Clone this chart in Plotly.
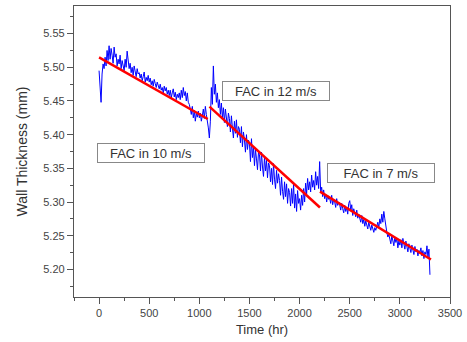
import plotly.graph_objects as go

# Measured wall thickness (blue), sampled every 10 hr
time_hr = list(range(0, 3301, 10))
thickness_mm = [
    5.495, 5.460, 5.448, 5.490, 5.505, 5.498, 5.515, 5.502, 5.525, 5.510,
    5.532, 5.512, 5.528, 5.518, 5.506, 5.530, 5.515, 5.520, 5.502, 5.512,
    5.505, 5.518, 5.498, 5.510, 5.502, 5.495, 5.512, 5.500, 5.524, 5.505,
    5.498, 5.506, 5.492, 5.500, 5.488, 5.502, 5.494, 5.486, 5.498, 5.490,
    5.492, 5.484, 5.490, 5.480, 5.486, 5.493, 5.478, 5.485, 5.480, 5.488,
    5.478, 5.484, 5.474, 5.480, 5.472, 5.482, 5.476, 5.470, 5.478, 5.472,
    5.468, 5.475, 5.466, 5.470, 5.462, 5.472, 5.465, 5.470, 5.460, 5.466,
    5.458, 5.466, 5.455, 5.462, 5.468, 5.456, 5.463, 5.452, 5.460, 5.455,
    5.462, 5.452, 5.466, 5.455, 5.470, 5.458, 5.464, 5.450, 5.462, 5.448,
    5.445, 5.438, 5.430, 5.442, 5.425, 5.436, 5.420, 5.432, 5.426, 5.435,
    5.425, 5.432, 5.420, 5.428, 5.438, 5.424, 5.442, 5.430, 5.422, 5.410,
    5.395, 5.420, 5.470, 5.445, 5.502, 5.460, 5.475, 5.448, 5.462, 5.440,
    5.452, 5.430, 5.447, 5.425, 5.440, 5.418, 5.438, 5.422, 5.412, 5.432,
    5.424, 5.404, 5.428, 5.410, 5.395, 5.420, 5.402, 5.422, 5.396, 5.412,
    5.408, 5.388, 5.412, 5.382, 5.404, 5.392, 5.374, 5.400, 5.378, 5.392,
    5.387, 5.360, 5.394, 5.366, 5.382, 5.354, 5.378, 5.364, 5.348, 5.374,
    5.370, 5.346, 5.374, 5.352, 5.338, 5.367, 5.346, 5.362, 5.336, 5.358,
    5.354, 5.330, 5.350, 5.326, 5.357, 5.334, 5.320, 5.347, 5.328, 5.342,
    5.332, 5.310, 5.337, 5.316, 5.304, 5.330, 5.308, 5.327, 5.298, 5.320,
    5.314, 5.294, 5.320, 5.298, 5.327, 5.291, 5.312, 5.286, 5.317, 5.298,
    5.305, 5.288, 5.310, 5.295, 5.320, 5.300, 5.328, 5.312, 5.335, 5.318,
    5.330, 5.315, 5.340, 5.322, 5.332, 5.318, 5.345, 5.325, 5.338, 5.320,
    5.360, 5.315, 5.322, 5.308, 5.318, 5.305, 5.312, 5.300, 5.310, 5.304,
    5.306, 5.298, 5.310, 5.296, 5.304, 5.300, 5.292, 5.305, 5.295, 5.300,
    5.296, 5.288, 5.298, 5.290, 5.284, 5.295, 5.286, 5.292, 5.282, 5.298,
    5.302, 5.288, 5.296, 5.280, 5.290, 5.284, 5.278, 5.288, 5.276, 5.282,
    5.276, 5.270, 5.280, 5.268, 5.274, 5.264, 5.272, 5.266, 5.260, 5.270,
    5.265, 5.258, 5.266, 5.260, 5.255, 5.262, 5.258, 5.264, 5.270, 5.262,
    5.275, 5.268, 5.282, 5.270, 5.286, 5.275, 5.262, 5.255, 5.248, 5.252,
    5.245, 5.238, 5.250, 5.242, 5.235, 5.248, 5.240, 5.246, 5.232, 5.242,
    5.236, 5.244, 5.232, 5.246, 5.238, 5.230, 5.242, 5.234, 5.226, 5.238,
    5.232, 5.225, 5.236, 5.228, 5.222, 5.234, 5.226, 5.230, 5.220, 5.228,
    5.225, 5.232, 5.220, 5.228, 5.216, 5.226, 5.222, 5.235, 5.218, 5.230,
    5.192,
]

# Linear fits (red) per flow-velocity regime
fit_time = [0, 1084, None, 1101, 2203, None, 2203, 3310]
fit_mm = [5.5146, 5.4232, None, 5.4417, 5.2919, None, 5.3155, 5.2146]

labels = ["FAC in 10 m/s", "FAC in 12 m/s", "FAC in 7 m/s"]
label_px = [(151.8, 152.7), (278.0, 90.3), (384.5, 172.7)]

L, R, T, B = 74, 454, 5, 297.5
W, H = 467, 342

fig = go.Figure()
fig.add_trace(go.Scatter(x=time_hr, y=thickness_mm, mode="lines",
                         line=dict(color="#0000ff", width=1), showlegend=False))
fig.add_trace(go.Scatter(x=fit_time, y=fit_mm, mode="lines",
                         line=dict(color="#ff0000", width=2.5), showlegend=False,
                         connectgaps=False))

for text, (px, py) in zip(labels, label_px):
    fig.add_annotation(x=(px - L) / (R - L), y=(B - py) / (B - T), xref="paper", yref="paper",
                       text=text, showarrow=False, xanchor="center", yanchor="middle",
                       font=dict(family="Liberation Sans, Arial", size=13, color="#333333"),
                       bgcolor="white", bordercolor="#888888", borderwidth=1,
                       width=104, height=16, borderpad=1)

axis_common = dict(showline=True, linecolor="#555555", linewidth=1.3, mirror=True,
                   ticks="outside", ticklen=6, tickwidth=1, tickcolor="#555555",
                   showgrid=False, zeroline=False,
                   tickfont=dict(family="Liberation Sans, Arial", size=11, color="#444444"))

fig.update_xaxes(range=[-250, 3500], tick0=0, dtick=500,
                 minor=dict(ticks="outside", ticklen=3, dtick=250, tick0=0, tickcolor="#555555"),
                 title=dict(text="Time (hr)", standoff=6,
                            font=dict(family="Liberation Sans, Arial", size=13, color="#333333")),
                 **axis_common)
fig.update_yaxes(range=[5.159, 5.591], tick0=5.2, dtick=0.05, tickformat=".2f",
                 minor=dict(ticks="outside", ticklen=3, dtick=0.025, tick0=5.2, tickcolor="#555555"),
                 title=dict(text="Wall Thickness (mm)", standoff=12,
                            font=dict(family="Liberation Sans, Arial", size=14, color="#333333")),
                 **axis_common)

fig.update_layout(width=W, height=H, margin=dict(l=L, r=W - R, t=T, b=H - B),
                  plot_bgcolor="white", paper_bgcolor="white")

fig.write_html("out.html", config={"displayModeBar": False},
               post_script="document.body.style.margin='0';")
